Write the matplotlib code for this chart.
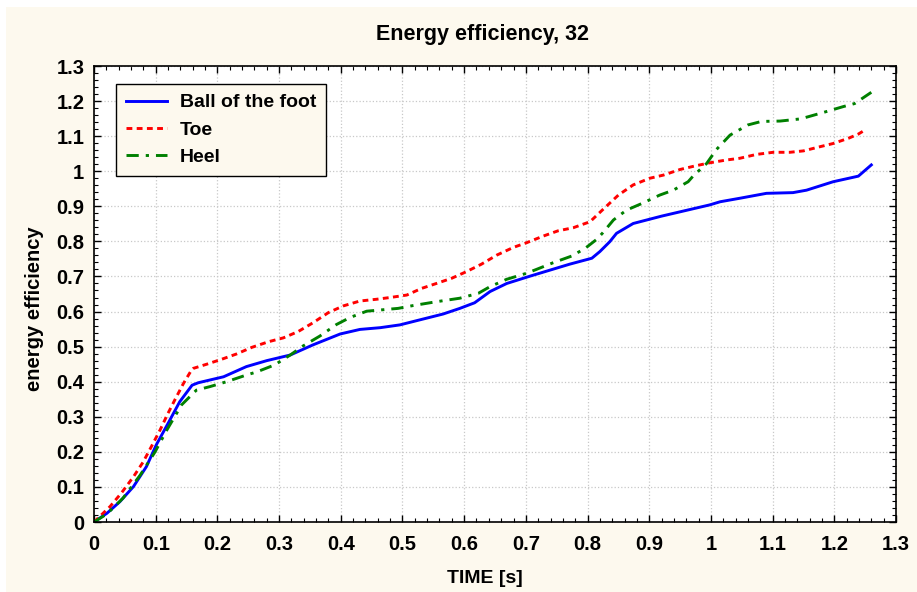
import numpy as np
import matplotlib
matplotlib.use('Agg')
import matplotlib.pyplot as plt
from matplotlib.patches import Rectangle
from matplotlib.ticker import MultipleLocator

plt.rcParams['font.family'] = ['Liberation Sans', 'DejaVu Sans']
plt.rcParams['font.weight'] = 'bold'

# values
ball_t = [0, 0.021, 0.042, 0.064, 0.085, 0.101, 0.12, 0.139, 0.159, 0.169, 0.21, 0.247, 0.28,
          0.318, 0.355, 0.399, 0.431, 0.464, 0.496, 0.523, 0.566, 0.593, 0.617, 0.642, 0.669,
          0.707, 0.739, 0.771, 0.807, 0.82, 0.836, 0.847, 0.874, 0.92, 0.998, 1.015, 1.047,
          1.09, 1.133, 1.155, 1.198, 1.239, 1.26]
ball_e = [0, 0.025, 0.058, 0.101, 0.158, 0.22, 0.281, 0.343, 0.39, 0.397, 0.414, 0.443, 0.46,
          0.476, 0.505, 0.536, 0.549, 0.554, 0.562, 0.574, 0.593, 0.609, 0.625, 0.657, 0.68,
          0.701, 0.718, 0.735, 0.752, 0.771, 0.799, 0.823, 0.851, 0.872, 0.904, 0.913, 0.923,
          0.937, 0.939, 0.946, 0.97, 0.986, 1.018]

toe_t = [0, 0.026, 0.045, 0.064, 0.08, 0.093, 0.107, 0.12, 0.131, 0.145, 0.158, 0.161, 0.183,
         0.207, 0.231, 0.256, 0.283, 0.307, 0.331, 0.355, 0.38, 0.404, 0.431, 0.458, 0.48,
         0.507, 0.531, 0.555, 0.58, 0.604, 0.628, 0.653, 0.68, 0.701, 0.728, 0.752, 0.777,
         0.804, 0.825, 0.85, 0.874, 0.901, 0.923, 0.95, 0.974, 0.998, 1.025, 1.047, 1.074,
         1.101, 1.128, 1.15, 1.177, 1.198, 1.223, 1.239, 1.252]
toe_e = [0, 0.044, 0.084, 0.129, 0.172, 0.215, 0.262, 0.31, 0.348, 0.395, 0.433, 0.438, 0.45,
         0.464, 0.479, 0.498, 0.514, 0.525, 0.543, 0.568, 0.597, 0.616, 0.63, 0.635, 0.64,
         0.647, 0.666, 0.68, 0.695, 0.714, 0.735, 0.761, 0.783, 0.796, 0.815, 0.83, 0.839,
         0.856, 0.891, 0.932, 0.961, 0.98, 0.989, 1.005, 1.015, 1.024, 1.032, 1.037, 1.048,
         1.054, 1.054, 1.058, 1.07, 1.079, 1.094, 1.106, 1.12]

heel_t = [0, 0.021, 0.047, 0.075, 0.099, 0.118, 0.142, 0.166, 0.188, 0.215, 0.247, 0.264,
          0.293, 0.318, 0.339, 0.366, 0.393, 0.415, 0.442, 0.474, 0.493, 0.517, 0.555, 0.593,
          0.623, 0.642, 0.669, 0.701, 0.717, 0.744, 0.774, 0.796, 0.815, 0.825, 0.842, 0.863,
          0.888, 0.917, 0.939, 0.963, 0.971, 0.993, 1.009, 1.031, 1.06, 1.082, 1.112, 1.144,
          1.157, 1.187, 1.214, 1.233, 1.26]
heel_e = [0, 0.023, 0.068, 0.134, 0.2, 0.262, 0.334, 0.376, 0.386, 0.4, 0.419, 0.428,
          0.448, 0.476, 0.502, 0.53, 0.563, 0.583, 0.601, 0.606, 0.609, 0.617, 0.628, 0.638,
          0.652, 0.671, 0.692, 0.709, 0.72, 0.739, 0.758, 0.78, 0.806, 0.825, 0.861, 0.889,
          0.908, 0.932, 0.946, 0.97, 0.986, 1.022, 1.062, 1.103, 1.132, 1.142, 1.143, 1.149,
          1.155, 1.17, 1.184, 1.193, 1.225]

cream = '#fdf9ee'

fig = plt.figure(figsize=(9.17, 5.92), dpi=100, facecolor='white')
fig.patches.append(Rectangle((6/917., 0), 1, 1 - 7/592., transform=fig.transFigure,
                             facecolor=cream, edgecolor='none', zorder=-10))

ax = fig.add_axes([94/917., 70/592., 802/917., 456/592.])
ax.set_facecolor('white')

ax.plot(ball_t, ball_e, color='blue', lw=2.1, label='Ball of the foot')
ax.plot(toe_t, toe_e, color='red', lw=2.1, dashes=(2.0, 1.5), label='Toe')
ax.plot(heel_t, heel_e, color='green', lw=2.1, dashes=(4.2, 2.4, 1.1, 2.4), label='Heel')

ax.set_xlim(0, 1.3)
ax.set_ylim(0, 1.3)
ax.xaxis.set_major_locator(MultipleLocator(0.1))
ax.yaxis.set_major_locator(MultipleLocator(0.1))
ax.xaxis.set_minor_locator(MultipleLocator(0.02))
ax.yaxis.set_minor_locator(MultipleLocator(0.02))

def fmt(v, pos):
  s = '%.1f' % v
  if s.endswith('.0'):
    s = s[:-2]
  return s
ax.xaxis.set_major_formatter(plt.FuncFormatter(fmt))
ax.yaxis.set_major_formatter(plt.FuncFormatter(fmt))

ax.tick_params(which='both', direction='in', top=True, right=True, labelsize=14.5)
ax.tick_params(which='major', length=5, width=1)
ax.tick_params(which='minor', length=3, width=0.8)
ax.tick_params(axis='x', pad=9)
ax.tick_params(axis='y', pad=7)
for sp in ax.spines.values():
  sp.set_linewidth(1.2)

ax.grid(True, which='major', color='#c8c8c8', linestyle=':', linewidth=0.9)

ax.set_title('Energy efficiency, 32', fontsize=15.5, fontweight='bold', pad=19, x=0.485)
ax.set_xlabel('TIME [s]', fontsize=14, fontweight='bold', labelpad=12)
ax.xaxis.set_label_coords(0.487, -0.105)
ax.set_ylabel('energy efficiency', fontsize=14.5, fontweight='bold')
ax.yaxis.set_label_coords(-0.062, 0.467)

leg = ax.legend(loc='upper left', bbox_to_anchor=(22/802., 438/456.), borderaxespad=0,
                fancybox=False, facecolor=cream, edgecolor='black', framealpha=1,
                fontsize=14, handlelength=2.1, handletextpad=0.7, labelspacing=0.5,
                borderpad=0.5)
leg.get_frame().set_linewidth(1.0)

fig.savefig('out.png', dpi=100, facecolor=fig.get_facecolor())
